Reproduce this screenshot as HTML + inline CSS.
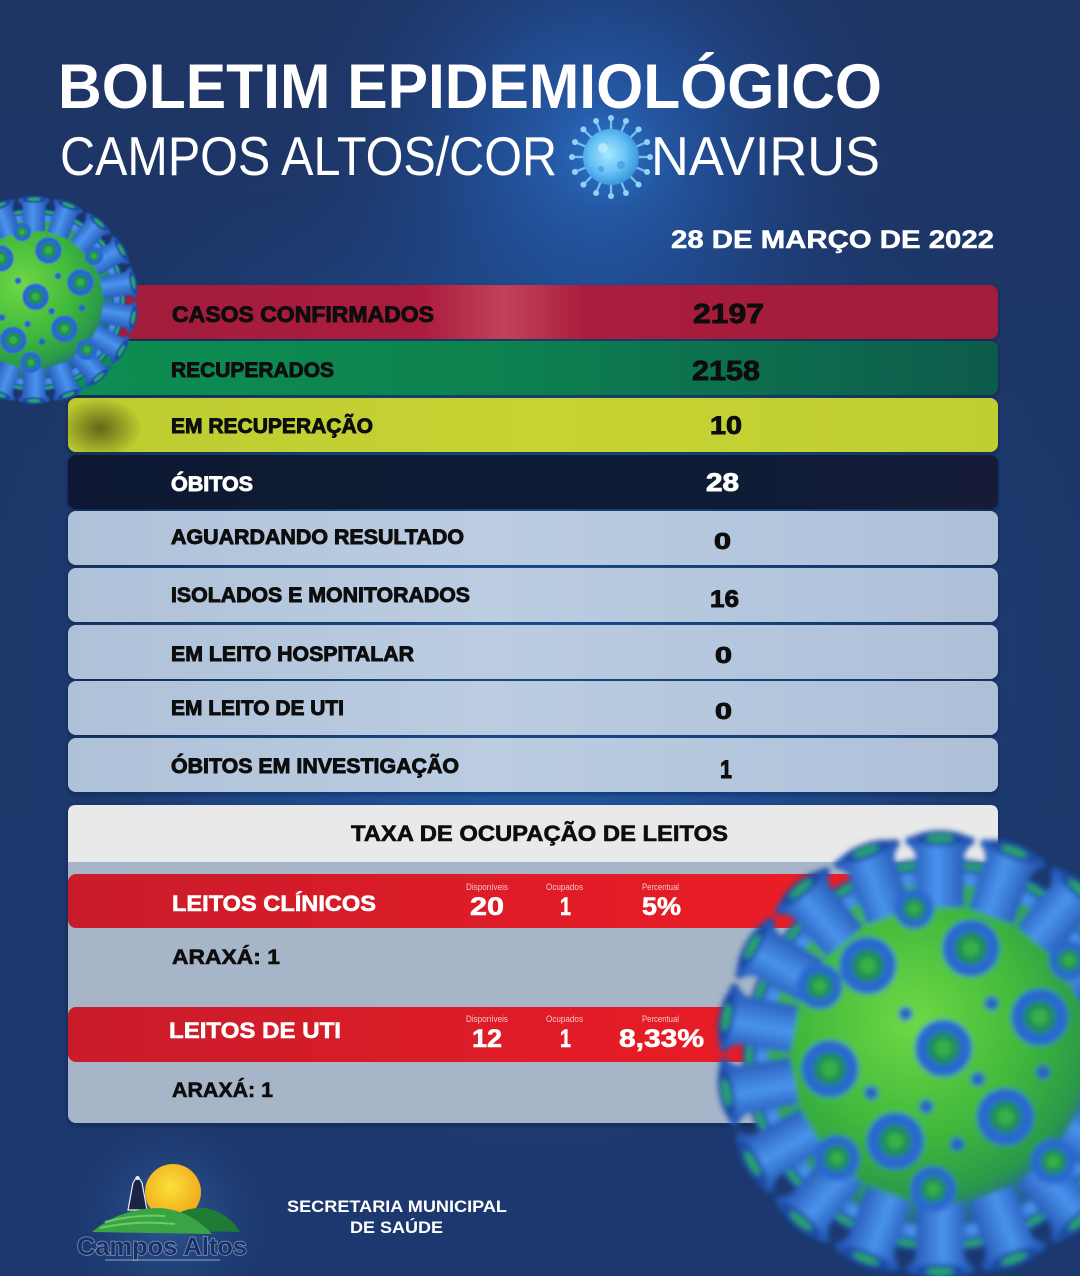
<!DOCTYPE html>
<html>
<head>
<meta charset="utf-8">
<style>
html,body{margin:0;padding:0;background:#1c3466;}
body{width:1080px;height:1276px;overflow:hidden;}
svg{display:block;}
text{font-family:"Liberation Sans",sans-serif;}
.t{font-family:"Liberation Sans Narrow","Liberation Sans",sans-serif;}
</style>
</head>
<body>
<svg width="1080" height="1276" viewBox="0 0 1080 1276" xmlns="http://www.w3.org/2000/svg">
<defs>
  <linearGradient id="bg" x1="0" y1="0" x2="0" y2="1">
    <stop offset="0" stop-color="#1e3566"/>
    <stop offset="0.5" stop-color="#1c3769"/>
    <stop offset="1" stop-color="#1c386f"/>
  </linearGradient>
  <radialGradient id="glow1" cx="600" cy="150" r="300" gradientUnits="userSpaceOnUse">
    <stop offset="0" stop-color="#2a6ac0" stop-opacity="0.95"/>
    <stop offset="0.45" stop-color="#2358a8" stop-opacity="0.5"/>
    <stop offset="1" stop-color="#1e3a70" stop-opacity="0"/>
  </radialGradient>
  <radialGradient id="glow2" cx="540" cy="640" r="560" gradientUnits="userSpaceOnUse">
    <stop offset="0" stop-color="#2366b8" stop-opacity="0.9"/>
    <stop offset="0.6" stop-color="#1f55a0" stop-opacity="0.5"/>
    <stop offset="1" stop-color="#1c3a70" stop-opacity="0"/>
  </radialGradient>
  <radialGradient id="glow3" cx="170" cy="1215" r="110" gradientUnits="userSpaceOnUse">
    <stop offset="0" stop-color="#3a6aa8" stop-opacity="0.7"/>
    <stop offset="1" stop-color="#1c3a70" stop-opacity="0"/>
  </radialGradient>

  <linearGradient id="r1" x1="0" y1="0" x2="1" y2="0">
    <stop offset="0" stop-color="#a01a3b"/>
    <stop offset="0.38" stop-color="#ab1d3e"/>
    <stop offset="0.47" stop-color="#c24159"/>
    <stop offset="0.56" stop-color="#a91c3d"/>
    <stop offset="1" stop-color="#a21a3b"/>
  </linearGradient>
  <linearGradient id="r2" x1="0" y1="0" x2="1" y2="0">
    <stop offset="0" stop-color="#0a8e52"/>
    <stop offset="0.45" stop-color="#0b8250"/>
    <stop offset="1" stop-color="#0f5b4c"/>
  </linearGradient>
  <linearGradient id="r3" x1="0" y1="0" x2="1" y2="0">
    <stop offset="0" stop-color="#bccc2f"/>
    <stop offset="0.5" stop-color="#c6d332"/>
    <stop offset="1" stop-color="#bfcf30"/>
  </linearGradient>
  <linearGradient id="r4" x1="0" y1="0" x2="1" y2="0">
    <stop offset="0" stop-color="#0f1931"/>
    <stop offset="1" stop-color="#121d38"/>
  </linearGradient>
  <linearGradient id="rg" x1="0" y1="0" x2="1" y2="0">
    <stop offset="0" stop-color="#aec1d8"/>
    <stop offset="0.45" stop-color="#bccde2"/>
    <stop offset="1" stop-color="#adc0d8"/>
  </linearGradient>
  <linearGradient id="red" x1="0" y1="0" x2="1" y2="0">
    <stop offset="0" stop-color="#c91c2b"/>
    <stop offset="0.6" stop-color="#e31c26"/>
    <stop offset="1" stop-color="#f21d24"/>
  </linearGradient>
  <radialGradient id="shadowBlob" cx="0.5" cy="0.5" r="0.5">
    <stop offset="0" stop-color="#3a3a10" stop-opacity="0.7"/>
    <stop offset="1" stop-color="#3a3a10" stop-opacity="0"/>
  </radialGradient>

  <!-- virus parts -->
  <linearGradient id="spkG" x1="0" y1="0" x2="1" y2="0">
    <stop offset="0" stop-color="#1d4fb0"/>
    <stop offset="0.45" stop-color="#4a94ee"/>
    <stop offset="1" stop-color="#1c4aa8"/>
  </linearGradient>
  <radialGradient id="bodyG" cx="0.42" cy="0.4" r="0.6">
    <stop offset="0" stop-color="#6fd845"/>
    <stop offset="0.55" stop-color="#40b83c"/>
    <stop offset="0.85" stop-color="#2a9a48"/>
    <stop offset="1" stop-color="#2560a0"/>
  </radialGradient>
  <g id="spk">
    <path d="M-14,-86 L-14,-114 Q-14,-120 -20,-123 L-20,-126 Q0,-134 20,-126 L20,-123 Q14,-120 14,-114 L14,-86 Z" fill="url(#spkG)"/>
    <ellipse cx="0" cy="-126" rx="15" ry="4.5" fill="#1a4ca6"/>
    <ellipse cx="0" cy="-126" rx="8" ry="2.2" fill="#2aa860"/>
  </g>
  <g id="ring">
    <circle r="13" fill="#1f8c58" stroke="#2c68d0" stroke-width="7"/>
    <circle r="5" fill="#37b04a"/>
  </g>
  <g id="virus">
    <use href="#spk" transform="rotate(10) scale(0.88)"/>
    <use href="#spk" transform="rotate(30) scale(0.88)"/>
    <use href="#spk" transform="rotate(50) scale(0.88)"/>
    <use href="#spk" transform="rotate(70) scale(0.88)"/>
    <use href="#spk" transform="rotate(90) scale(0.88)"/>
    <use href="#spk" transform="rotate(110) scale(0.88)"/>
    <use href="#spk" transform="rotate(130) scale(0.88)"/>
    <use href="#spk" transform="rotate(150) scale(0.88)"/>
    <use href="#spk" transform="rotate(170) scale(0.88)"/>
    <use href="#spk" transform="rotate(190) scale(0.88)"/>
    <use href="#spk" transform="rotate(210) scale(0.88)"/>
    <use href="#spk" transform="rotate(230) scale(0.88)"/>
    <use href="#spk" transform="rotate(250) scale(0.88)"/>
    <use href="#spk" transform="rotate(270) scale(0.88)"/>
    <use href="#spk" transform="rotate(290) scale(0.88)"/>
    <use href="#spk" transform="rotate(310) scale(0.88)"/>
    <use href="#spk" transform="rotate(330) scale(0.88)"/>
    <use href="#spk" transform="rotate(350) scale(0.88)"/>
    <circle r="100" fill="url(#bodyG)"/>
    <use href="#spk" transform="rotate(0)"/>
    <use href="#spk" transform="rotate(20)"/>
    <use href="#spk" transform="rotate(40)"/>
    <use href="#spk" transform="rotate(60)"/>
    <use href="#spk" transform="rotate(80)"/>
    <use href="#spk" transform="rotate(100)"/>
    <use href="#spk" transform="rotate(120)"/>
    <use href="#spk" transform="rotate(140)"/>
    <use href="#spk" transform="rotate(160)"/>
    <use href="#spk" transform="rotate(180)"/>
    <use href="#spk" transform="rotate(200)"/>
    <use href="#spk" transform="rotate(220)"/>
    <use href="#spk" transform="rotate(240)"/>
    <use href="#spk" transform="rotate(260)"/>
    <use href="#spk" transform="rotate(280)"/>
    <use href="#spk" transform="rotate(300)"/>
    <use href="#spk" transform="rotate(320)"/>
    <use href="#spk" transform="rotate(340)"/>
    <use href="#ring" transform="translate(-42,-52)"/>
    <use href="#ring" transform="translate(18,-62)"/>
    <use href="#ring" transform="translate(58,-22)"/>
    <use href="#ring" transform="translate(-64,8)"/>
    <use href="#ring" transform="translate(2,-4)"/>
    <use href="#ring" transform="translate(38,36)"/>
    <use href="#ring" transform="translate(-26,50)"/>
    <use href="#ring" transform="translate(66,62) scale(0.8)"/>
    <use href="#ring" transform="translate(-70,-40) scale(0.8)"/>
    <use href="#ring" transform="translate(-4,78) scale(0.8)"/>
    <use href="#ring" transform="translate(-60,60) scale(0.8)"/>
    <use href="#ring" transform="translate(75,-55) scale(0.7)"/>
    <use href="#ring" transform="translate(-15,-85) scale(0.7)"/>
    <circle cx="-20" cy="-24" r="4" fill="#2a60c8"/>
    <circle cx="30" cy="-30" r="4" fill="#2a60c8"/>
    <circle cx="-40" cy="22" r="4" fill="#2a60c8"/>
    <circle cx="22" cy="14" r="4" fill="#2a60c8"/>
    <circle cx="-8" cy="30" r="4" fill="#2a60c8"/>
    <circle cx="60" cy="10" r="4" fill="#2a60c8"/>
    <circle cx="10" cy="52" r="4" fill="#2a60c8"/>
  </g>
  <filter id="blur" x="-20%" y="-20%" width="140%" height="140%">
    <feGaussianBlur stdDeviation="2.6"/>
  </filter>
  <filter id="blur1" x="-20%" y="-20%" width="140%" height="140%">
    <feGaussianBlur stdDeviation="0.8"/>
  </filter>
  <filter id="shadow" x="-5%" y="-20%" width="110%" height="160%">
    <feDropShadow dx="0" dy="2" stdDeviation="2" flood-color="#0a1530" flood-opacity="0.45"/>
  </filter>

  <!-- title virus -->
  <radialGradient id="tvBody" cx="0.45" cy="0.45" r="0.55">
    <stop offset="0" stop-color="#a9e6ff"/>
    <stop offset="0.6" stop-color="#66c2f5"/>
    <stop offset="1" stop-color="#3b97e0"/>
  </radialGradient>
  <radialGradient id="tvGlow" cx="0.5" cy="0.5" r="0.5">
    <stop offset="0" stop-color="#3f9ae8" stop-opacity="0.45"/>
    <stop offset="1" stop-color="#2a6ac0" stop-opacity="0"/>
  </radialGradient>
  <g id="ts">
    <line x1="0" y1="-26" x2="0" y2="-38" stroke="#6ec4f2" stroke-width="2.3"/>
    <circle cx="0" cy="-39" r="3" fill="#8ed4f8"/>
  </g>
  <radialGradient id="sun" cx="0.45" cy="0.4" r="0.6">
    <stop offset="0" stop-color="#fbe03a"/>
    <stop offset="1" stop-color="#f2a81a"/>
  </radialGradient>
</defs>

<!-- background -->
<rect x="0" y="0" width="1080" height="1276" fill="url(#bg)"/>
<rect x="0" y="0" width="1080" height="1276" fill="url(#glow2)"/>
<rect x="0" y="0" width="1080" height="500" fill="url(#glow1)"/>
<rect x="0" y="1100" width="400" height="176" fill="url(#glow3)"/>

<!-- title virus (behind text) -->
<g transform="translate(611,157)">
  <circle r="55" fill="url(#tvGlow)"/>
  <use href="#ts" transform="rotate(0)"/>
  <use href="#ts" transform="rotate(22.5)"/>
  <use href="#ts" transform="rotate(45)"/>
  <use href="#ts" transform="rotate(67.5)"/>
  <use href="#ts" transform="rotate(90)"/>
  <use href="#ts" transform="rotate(112.5)"/>
  <use href="#ts" transform="rotate(135)"/>
  <use href="#ts" transform="rotate(157.5)"/>
  <use href="#ts" transform="rotate(180)"/>
  <use href="#ts" transform="rotate(202.5)"/>
  <use href="#ts" transform="rotate(225)"/>
  <use href="#ts" transform="rotate(247.5)"/>
  <use href="#ts" transform="rotate(270)"/>
  <use href="#ts" transform="rotate(292.5)"/>
  <use href="#ts" transform="rotate(315)"/>
  <use href="#ts" transform="rotate(337.5)"/>
  <circle r="28" fill="url(#tvBody)"/>
  <circle cx="-8" cy="-9" r="5" fill="#c4efff" opacity="0.7"/>
  <circle cx="10" cy="8" r="4" fill="#3d8fd8" opacity="0.6"/>
  <circle cx="-10" cy="12" r="3" fill="#3d8fd8" opacity="0.6"/>
</g>

<!-- title -->
<text class="t" x="58" y="108" font-size="63" font-weight="bold" fill="#ffffff" textLength="824" lengthAdjust="spacingAndGlyphs">BOLETIM EPIDEMIOLÓGICO</text>
<text class="t" x="60" y="175" font-size="55" fill="#ffffff" textLength="497" lengthAdjust="spacingAndGlyphs">CAMPOS ALTOS/COR</text>
<text class="t" x="651" y="175" font-size="55" fill="#ffffff" textLength="229" lengthAdjust="spacingAndGlyphs">NAVIRUS</text>

<!-- date -->
<text x="671" y="248" font-size="25" font-weight="bold" fill="#ffffff" stroke="#ffffff" stroke-width="0.5" textLength="323" lengthAdjust="spacingAndGlyphs">28 DE MARÇO DE 2022</text>

<!-- rows -->
<g filter="url(#shadow)">
  <rect x="68" y="285" width="930" height="54" rx="8" fill="url(#r1)"/>
  <rect x="68" y="341" width="930" height="54" rx="8" fill="url(#r2)"/>
  <rect x="68" y="398" width="930" height="54" rx="8" fill="url(#r3)"/>
  <rect x="68" y="455" width="930" height="54" rx="8" fill="url(#r4)"/>
  <rect x="68" y="511" width="930" height="54" rx="8" fill="url(#rg)"/>
  <rect x="68" y="568" width="930" height="54" rx="8" fill="url(#rg)"/>
  <rect x="68" y="625" width="930" height="54" rx="8" fill="url(#rg)"/>
  <rect x="68" y="681" width="930" height="54" rx="8" fill="url(#rg)"/>
  <rect x="68" y="738" width="930" height="54" rx="8" fill="url(#rg)"/>
</g>
<ellipse cx="100" cy="428" rx="42" ry="30" fill="url(#shadowBlob)"/>

<g font-weight="bold" fill="#0d0d0d" stroke="#0d0d0d" stroke-width="0.9">
  <text x="172" y="322" font-size="22" textLength="262" lengthAdjust="spacingAndGlyphs">CASOS CONFIRMADOS</text>
  <text x="693" y="323" font-size="28" textLength="71" lengthAdjust="spacingAndGlyphs">2197</text>
  <text x="171" y="377" font-size="21" textLength="163" lengthAdjust="spacingAndGlyphs">RECUPERADOS</text>
  <text x="692" y="380" font-size="28" textLength="68" lengthAdjust="spacingAndGlyphs">2158</text>
  <text x="171" y="433" font-size="21" textLength="202" lengthAdjust="spacingAndGlyphs">EM RECUPERAÇÃO</text>
  <text x="710" y="434" font-size="25" textLength="32" lengthAdjust="spacingAndGlyphs">10</text>
  <text x="171" y="491" font-size="21" fill="#ffffff" stroke="#ffffff" textLength="82" lengthAdjust="spacingAndGlyphs">ÓBITOS</text>
  <text x="706" y="491" font-size="25" fill="#ffffff" stroke="#ffffff" textLength="33" lengthAdjust="spacingAndGlyphs">28</text>
  <text x="171" y="544" font-size="21" textLength="293" lengthAdjust="spacingAndGlyphs">AGUARDANDO RESULTADO</text>
  <text x="714" y="549" font-size="23" textLength="17" lengthAdjust="spacingAndGlyphs">0</text>
  <text x="171" y="602" font-size="21" textLength="299" lengthAdjust="spacingAndGlyphs">ISOLADOS E MONITORADOS</text>
  <text x="710" y="607" font-size="24" textLength="29" lengthAdjust="spacingAndGlyphs">16</text>
  <text x="171" y="661" font-size="21" textLength="243" lengthAdjust="spacingAndGlyphs">EM LEITO HOSPITALAR</text>
  <text x="715" y="663" font-size="23" textLength="17" lengthAdjust="spacingAndGlyphs">0</text>
  <text x="171" y="715" font-size="21" textLength="173" lengthAdjust="spacingAndGlyphs">EM LEITO DE UTI</text>
  <text x="715" y="719" font-size="23" textLength="17" lengthAdjust="spacingAndGlyphs">0</text>
  <text x="171" y="773" font-size="21" textLength="288" lengthAdjust="spacingAndGlyphs">ÓBITOS EM INVESTIGAÇÃO</text>
  <text x="720" y="778" font-size="25" textLength="12" lengthAdjust="spacingAndGlyphs">1</text>
</g>

<!-- occupancy panel -->
<g filter="url(#shadow)">
  <rect x="68" y="830" width="930" height="293" rx="8" fill="#a6b5c8"/>
  <path d="M76,805 H990 Q998,805 998,813 V862 H68 V813 Q68,805 76,805 Z" fill="#e9e9ea"/>
</g>
<text x="351" y="841" font-size="22" font-weight="bold" fill="#0d0d0d" stroke="#0d0d0d" stroke-width="0.6" textLength="377" lengthAdjust="spacingAndGlyphs">TAXA DE OCUPAÇÃO DE LEITOS</text>

<rect x="68" y="874" width="924" height="54" rx="8" fill="url(#red)"/>
<rect x="68" y="1007" width="924" height="55" rx="8" fill="url(#red)"/>

<g fill="#ffffff" font-weight="bold" stroke="#ffffff" stroke-width="0.6">
  <text x="172" y="911" font-size="22" textLength="204" lengthAdjust="spacingAndGlyphs">LEITOS CLÍNICOS</text>
  <text x="470" y="915" font-size="25" textLength="34" lengthAdjust="spacingAndGlyphs">20</text>
  <text x="560" y="915" font-size="25" textLength="11" lengthAdjust="spacingAndGlyphs">1</text>
  <text x="642" y="915" font-size="25" textLength="39" lengthAdjust="spacingAndGlyphs">5%</text>
  <text x="169" y="1038" font-size="22" textLength="172" lengthAdjust="spacingAndGlyphs">LEITOS DE UTI</text>
  <text x="472" y="1047" font-size="25" textLength="30" lengthAdjust="spacingAndGlyphs">12</text>
  <text x="560" y="1047" font-size="25" textLength="11" lengthAdjust="spacingAndGlyphs">1</text>
  <text x="619" y="1047" font-size="25" textLength="85" lengthAdjust="spacingAndGlyphs">8,33%</text>
</g>
<g fill="#f6c9c9" font-size="9">
  <text class="t" x="466" y="890" textLength="42" lengthAdjust="spacingAndGlyphs">Disponíveis</text>
  <text class="t" x="546" y="890" textLength="37" lengthAdjust="spacingAndGlyphs">Ocupados</text>
  <text class="t" x="642" y="890" textLength="37" lengthAdjust="spacingAndGlyphs">Percentual</text>
  <text class="t" x="466" y="1022" textLength="42" lengthAdjust="spacingAndGlyphs">Disponíveis</text>
  <text class="t" x="546" y="1022" textLength="37" lengthAdjust="spacingAndGlyphs">Ocupados</text>
  <text class="t" x="642" y="1022" textLength="37" lengthAdjust="spacingAndGlyphs">Percentual</text>
</g>
<g fill="#0d0d0d" font-weight="bold" stroke="#0d0d0d" stroke-width="0.6">
  <text x="172" y="964" font-size="21" textLength="108" lengthAdjust="spacingAndGlyphs">ARAXÁ: 1</text>
  <text x="172" y="1097" font-size="21" textLength="101" lengthAdjust="spacingAndGlyphs">ARAXÁ: 1</text>
</g>

<!-- left virus -->
<g filter="url(#blur1)">
  <g transform="translate(34,300) scale(0.8)">
    <use href="#virus"/>
  </g>
</g>

<!-- big virus -->
<g filter="url(#blur)">
  <g transform="translate(940,1055) scale(1.72)">
    <use href="#virus"/>
  </g>
</g>

<!-- footer logo -->
<g>
  <circle cx="173" cy="1192" r="28" fill="url(#sun)"/>
  <path d="M136,1178 L133,1183 L128,1210 L147,1210 L142,1183 L139,1178 Z" fill="#1a2444" stroke="#e8eef8" stroke-width="1.2"/>
  <circle cx="137.5" cy="1178" r="2" fill="#e8eef8"/>
  <path d="M158,1230 Q178,1206 205,1208 Q228,1212 240,1232 Z" fill="#1f7a33"/>
  <path d="M92,1232 Q120,1208 160,1208 Q190,1210 212,1234 Z" fill="#3aa445"/>
  <path d="M105,1222 Q135,1214 165,1216" stroke="#6ccc60" stroke-width="2" fill="none"/>
  <path d="M100,1228 Q135,1220 175,1224" stroke="#6ccc60" stroke-width="2" fill="none"/>
  <text x="77" y="1255" font-size="25" font-weight="bold" fill="#1b2f60" stroke="#7f9cc8" stroke-width="1.4" paint-order="stroke" textLength="170" lengthAdjust="spacingAndGlyphs">Campos Altos</text>
  <rect x="105" y="1259" width="115" height="2" fill="#8fa6c8" opacity="0.5"/>
</g>
<g fill="#ffffff" font-weight="bold" font-size="17">
  <text x="287" y="1212" textLength="220" lengthAdjust="spacingAndGlyphs">SECRETARIA MUNICIPAL</text>
  <text x="350" y="1233" textLength="93" lengthAdjust="spacingAndGlyphs">DE SAÚDE</text>
</g>
</svg>
</body>
</html>
